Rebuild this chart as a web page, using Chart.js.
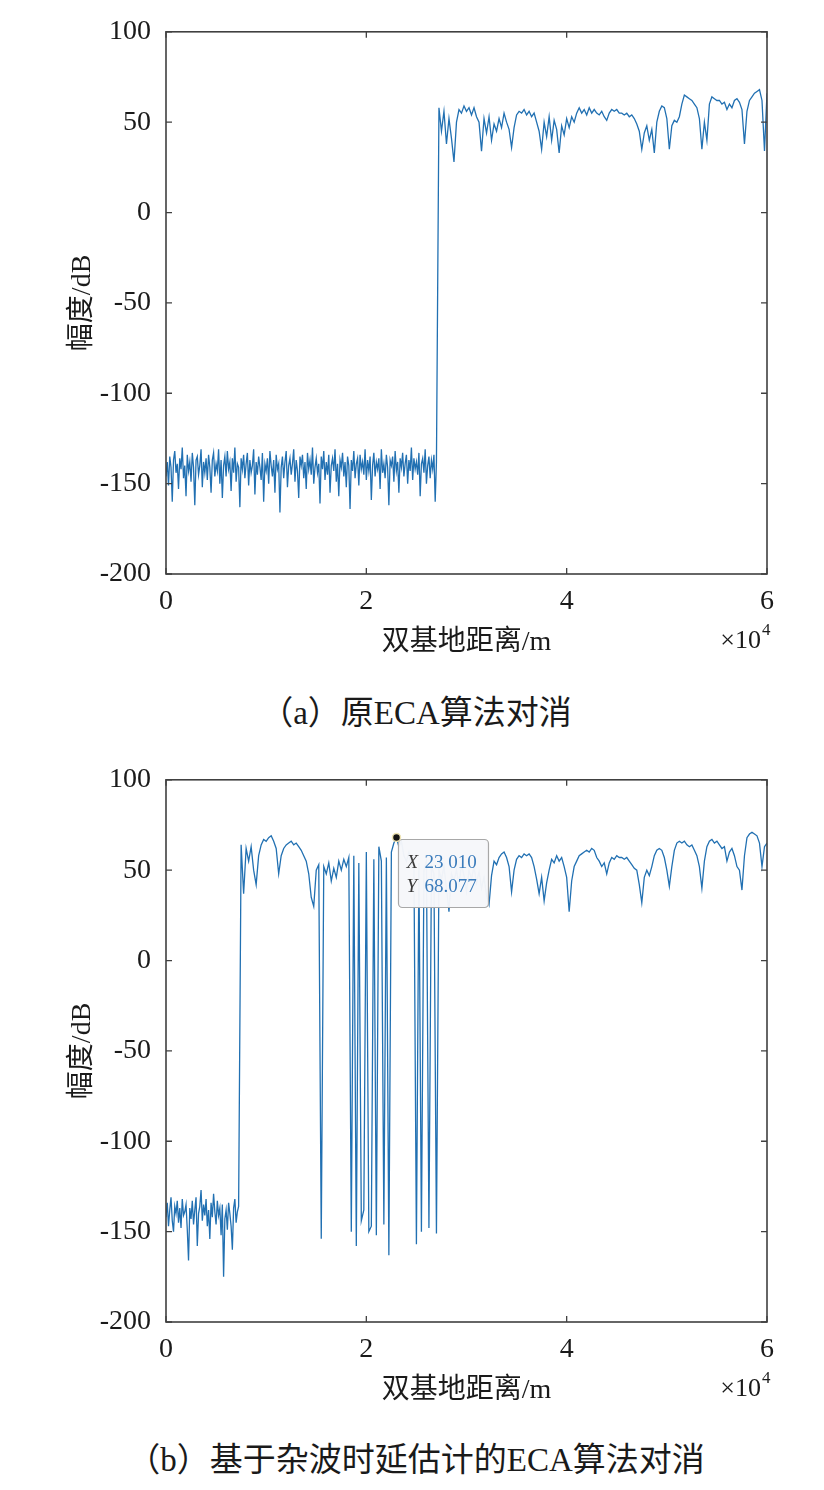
<!DOCTYPE html>
<html>
<head>
<meta charset="utf-8">
<script src="https://cdn.jsdelivr.net/npm/chart.js@4.4.1/dist/chart.umd.min.js"></script>
<style>
  html, body { margin: 0; padding: 0; background: #fff; }
  body { position: relative; width: 824px; height: 1490px; overflow: hidden; }
  canvas { position: absolute; left: 0; }
  #chart-a { top: 0; }
  #chart-b { top: 748px; }
  .caption {
    position: absolute; left: 4px; width: 824px; text-align: center;
    font: 33px "Liberation Serif", "Noto Sans CJK SC", serif; line-height: 38px; color: #1a1a1a;
  }
</style>
</head>
<body>
<canvas id="chart-a" width="824" height="680"></canvas>
<div class="caption" style="top:694px">（a）原ECA算法对消</div>
<canvas id="chart-b" width="824" height="680"></canvas>
<div class="caption" style="top:1441px">（b）基于杂波时延估计的ECA算法对消</div>

<script>
// sample spacing (m): dense in the noise floor, coarser after the step
const noiseStep = 125;
const sampleStep = 250;
const xTickStep = 20000;
const yTickStep = 50;
const xLabel = '双基地距离/m';
const yLabel = '幅度/dB';

// (a) original ECA, amplitude in dB
// noise floor, 0 .. 27000 m
const noiseA = [
  -146,-138,-151,-135,-141,-160,-137,-132,-144,-139,-153,-136,-142,-130,-147,-140,-157,-134,-143,-138,
  -149,-133,-141,-162,-137,-135,-145,-140,-131,-152,-138,-144,-136,-148,-134,-141,-155,-137,-133,-146,
  -139,-143,-131,-150,-137,-158,-140,-135,-146,-132,-142,-138,-154,-136,-144,-130,-149,-139,-141,-163,
  -136,-142,-134,-147,-139,-133,-151,-137,-144,-140,-131,-156,-138,-145,-135,-141,-148,-133,-160,-139,
  -143,-136,-150,-132,-140,-146,-137,-155,-134,-142,-139,-166,-141,-135,-147,-138,-132,-152,-140,-136,
  -145,-139,-131,-149,-137,-143,-158,-135,-140,-134,-147,-138,-153,-133,-142,-137,-145,-130,-150,-141,
  -136,-144,-139,-161,-135,-142,-132,-148,-138,-145,-134,-155,-140,-136,-143,-131,-149,-139,-157,-137,
  -141,-133,-146,-138,-152,-135,-140,-164,-137,-143,-132,-147,-139,-136,-151,-134,-142,-138,-145,-131,
  -148,-137,-143,-135,-159,-140,-133,-146,-138,-142,-136,-153,-131,-144,-139,-147,-134,-141,-162,-137,
  -140,-135,-149,-132,-143,-138,-155,-136,-141,-133,-146,-139,-134,-150,-137,-143,-130,-148,-136,-142,
  -138,-145,-133,-157,-139,-136,-144,-131,-150,-140,-135,-147,-137,-142,-134,-160,-138
];
// after the step, from 27250 m
const signalStartA = 27250;
const signalA = [
  58,45,56,38,52,41,28,50,57,55,59,56,58,54,58,53,50,34,52,44,
  53,40,49,45,52,47,55,50,46,36,47,54,56,55,57,54,56,53,55,50,
  45,35,50,42,53,40,51,46,33,48,43,52,47,53,50,55,58,55,57,54,
  58,55,57,55,54,56,53,51,55,57,56,57,55,55,54,55,53,54,52,49,
  45,35,44,48,40,46,33,50,56,59,58,52,35,48,51,50,53,60,65,64,
  63,62,60,58,52,35,50,40,60,64,63,62,62,60,61,57,60,58,62,63,
  61,57,38,56,62,64,66,67,68,62,34,66
];

// (b) ECA with clutter delay estimation, amplitude in dB
// noise floor, 0 .. 7250 m
const noiseB = [
  -142,-134,-147,-138,-131,-144,-150,-136,-140,-133,-145,-137,-148,-132,-141,-139,-135,-149,-166,-137,
  -143,-133,-146,-138,-131,-158,-140,-136,-127,-144,-135,-141,-132,-147,-138,-154,-134,-142,-129,-139,
  -146,-133,-141,-137,-152,-135,-175,-143,-138,-149,-134,-140,-147,-160,-137,-132,-145,-139,-136
];
// after the step, from 7500 m
const signalStartB = 7500;
const signalB = [
  64,37,62,55,63,50,42,58,64,67,66,68,69,66,62,48,58,62,64,65,
  66,64,65,63,61,58,55,48,35,30,50,53,-154,52,48,54,44,51,46,55,
  50,56,52,57,-150,58,-158,54,-144,-138,60,-150,-147,56,-152,63,55,-146,57,-163,
  60,65,68,63,66,58,55,60,52,56,-157,54,-150,50,55,-148,52,48,-151,50,
  45,52,40,27,48,44,50,42,53,47,38,50,45,52,43,49,40,46,36,31,
  47,55,53,57,59,60,57,52,38,50,56,58,57,59,58,59,57,52,45,37,
  46,33,43,50,56,54,58,55,57,52,46,27,44,52,55,58,59,60,61,60,
  62,61,57,55,52,54,48,54,57,56,58,57,57,56,57,55,53,51,50,42,
  32,46,50,47,52,58,61,62,61,57,50,41,52,61,65,66,65,66,64,63,
  64,61,58,52,40,55,63,66,67,65,66,64,62,63,55,60,62,58,52,50,
  39,58,68,70,71,70,69,65,52,63,65
];

// data tip shown on (b)
const tipX = 23010;
const tipY = 68.077;

const serif = '"Liberation Serif", "Noto Sans CJK SC", serif';
Chart.defaults.font.family = serif;
Chart.defaults.color = '#1a1a1a';

// MATLAB style box with inward ticks + the x10^4 exponent
const boxPlugin = {
  id: 'boxPlugin',
  afterDraw(chart) {
    const { ctx, chartArea: a, scales } = chart;
    const len = 6;
    ctx.save();
    ctx.strokeStyle = '#404040';
    ctx.lineWidth = 1.3;
    ctx.beginPath();
    scales.x.ticks.forEach(t => {
      const px = scales.x.getPixelForValue(t.value);
      ctx.moveTo(px, a.bottom); ctx.lineTo(px, a.bottom - len);
      ctx.moveTo(px, a.top); ctx.lineTo(px, a.top + len);
    });
    scales.y.ticks.forEach(t => {
      const py = scales.y.getPixelForValue(t.value);
      ctx.moveTo(a.left, py); ctx.lineTo(a.left + len, py);
      ctx.moveTo(a.right, py); ctx.lineTo(a.right - len, py);
    });
    ctx.stroke();
    ctx.lineWidth = 1.6;
    ctx.strokeRect(a.left, a.top, a.right - a.left, a.bottom - a.top);

    ctx.fillStyle = '#1a1a1a';
    ctx.textBaseline = 'alphabetic';
    ctx.font = '26px ' + serif;
    ctx.textAlign = 'right';
    ctx.fillText('×10', a.right - 6, a.bottom + 74);
    ctx.font = '17px ' + serif;
    ctx.textAlign = 'left';
    ctx.fillText('4', a.right - 5, a.bottom + 61);
    ctx.restore();
  }
};

const groupDigits = v => String(v).replace(/\B(?=(\d{3})+(?!\d))/g, ' ');

const tipPlugin = {
  id: 'dataTip',
  afterDraw(chart, args, opts) {
    if (!opts.show) return;
    const { ctx, scales: { x, y } } = chart;
    const px = x.getPixelForValue(tipX);
    const py = y.getPixelForValue(tipY);
    const bx = px + 2, by = py + 2;
    ctx.save();
    ctx.beginPath();
    ctx.roundRect(bx, by, 90, 68, 4);
    ctx.fillStyle = 'rgba(246,247,250,0.97)';
    ctx.fill();
    ctx.strokeStyle = '#a8a8a8';
    ctx.lineWidth = 1.2;
    ctx.stroke();

    ctx.beginPath();
    ctx.arc(px, py, 4, 0, Math.PI * 2);
    ctx.fillStyle = '#151515';
    ctx.fill();
    ctx.strokeStyle = '#efe5b5';
    ctx.lineWidth = 1.5;
    ctx.stroke();

    ctx.textBaseline = 'middle';
    ctx.textAlign = 'left';
    ctx.font = 'italic 19px ' + serif;
    ctx.fillStyle = '#3a3a3a';
    ctx.fillText('X', bx + 8, py + 26);
    ctx.fillText('Y', bx + 8, py + 50);
    ctx.font = '19px ' + serif;
    ctx.fillStyle = '#3a7bbb';
    ctx.fillText(groupDigits(tipX), bx + 26, py + 26);
    ctx.fillText(String(tipY), bx + 26, py + 50);
    ctx.restore();
  }
};

function makeChart(id, noise, signalStart, signal, showTip) {
  const canvas = document.getElementById(id);
  if (!canvas) {
    console.error('canvas ' + id + ' not found');
    return;
  }
  const points = noise.map((v, i) => ({ x: i * noiseStep, y: v }))
    .concat(signal.map((v, j) => ({ x: signalStart + j * sampleStep, y: v })));
  return new Chart(canvas.getContext('2d'), {
    type: 'line',
    data: {
      datasets: [{
        data: points,
        borderColor: '#2170b2',
        borderWidth: 1.3,
        pointRadius: 0,
        tension: 0,
        fill: false
      }]
    },
    options: {
      responsive: false,
      animation: false,
      layout: { padding: { top: 28, right: 57, bottom: 0, left: 0 } },
      plugins: {
        legend: { display: false },
        tooltip: { enabled: false },
        dataTip: { show: showTip }
      },
      scales: {
        x: {
          type: 'linear',
          min: 0,
          max: 60000,
          grid: { display: false, drawTicks: false },
          border: { display: false },
          ticks: {
            stepSize: xTickStep,
            autoSkip: false,
            maxRotation: 0,
            padding: 11,
            font: { size: 28 },
            color: '#1a1a1a',
            callback: v => v / 10000
          },
          title: {
            display: true,
            text: xLabel,
            font: { size: 28 },
            color: '#1a1a1a',
            padding: { top: 0, bottom: 21 }
          },
          afterFit: s => { s.height = 106; }
        },
        y: {
          min: -200,
          max: 100,
          grid: { display: false, drawTicks: false },
          border: { display: false },
          ticks: {
            stepSize: yTickStep,
            padding: 15,
            font: { size: 28 },
            color: '#1a1a1a'
          },
          title: {
            display: true,
            text: yLabel,
            font: { size: 28 },
            color: '#1a1a1a',
            padding: { top: 66, bottom: 0 }
          },
          afterFit: s => { s.width = 166; }
        }
      }
    },
    plugins: [boxPlugin, tipPlugin]
  });
}

makeChart('chart-a', noiseA, signalStartA, signalA, false);
makeChart('chart-b', noiseB, signalStartB, signalB, true);
</script>
</body>
</html>
